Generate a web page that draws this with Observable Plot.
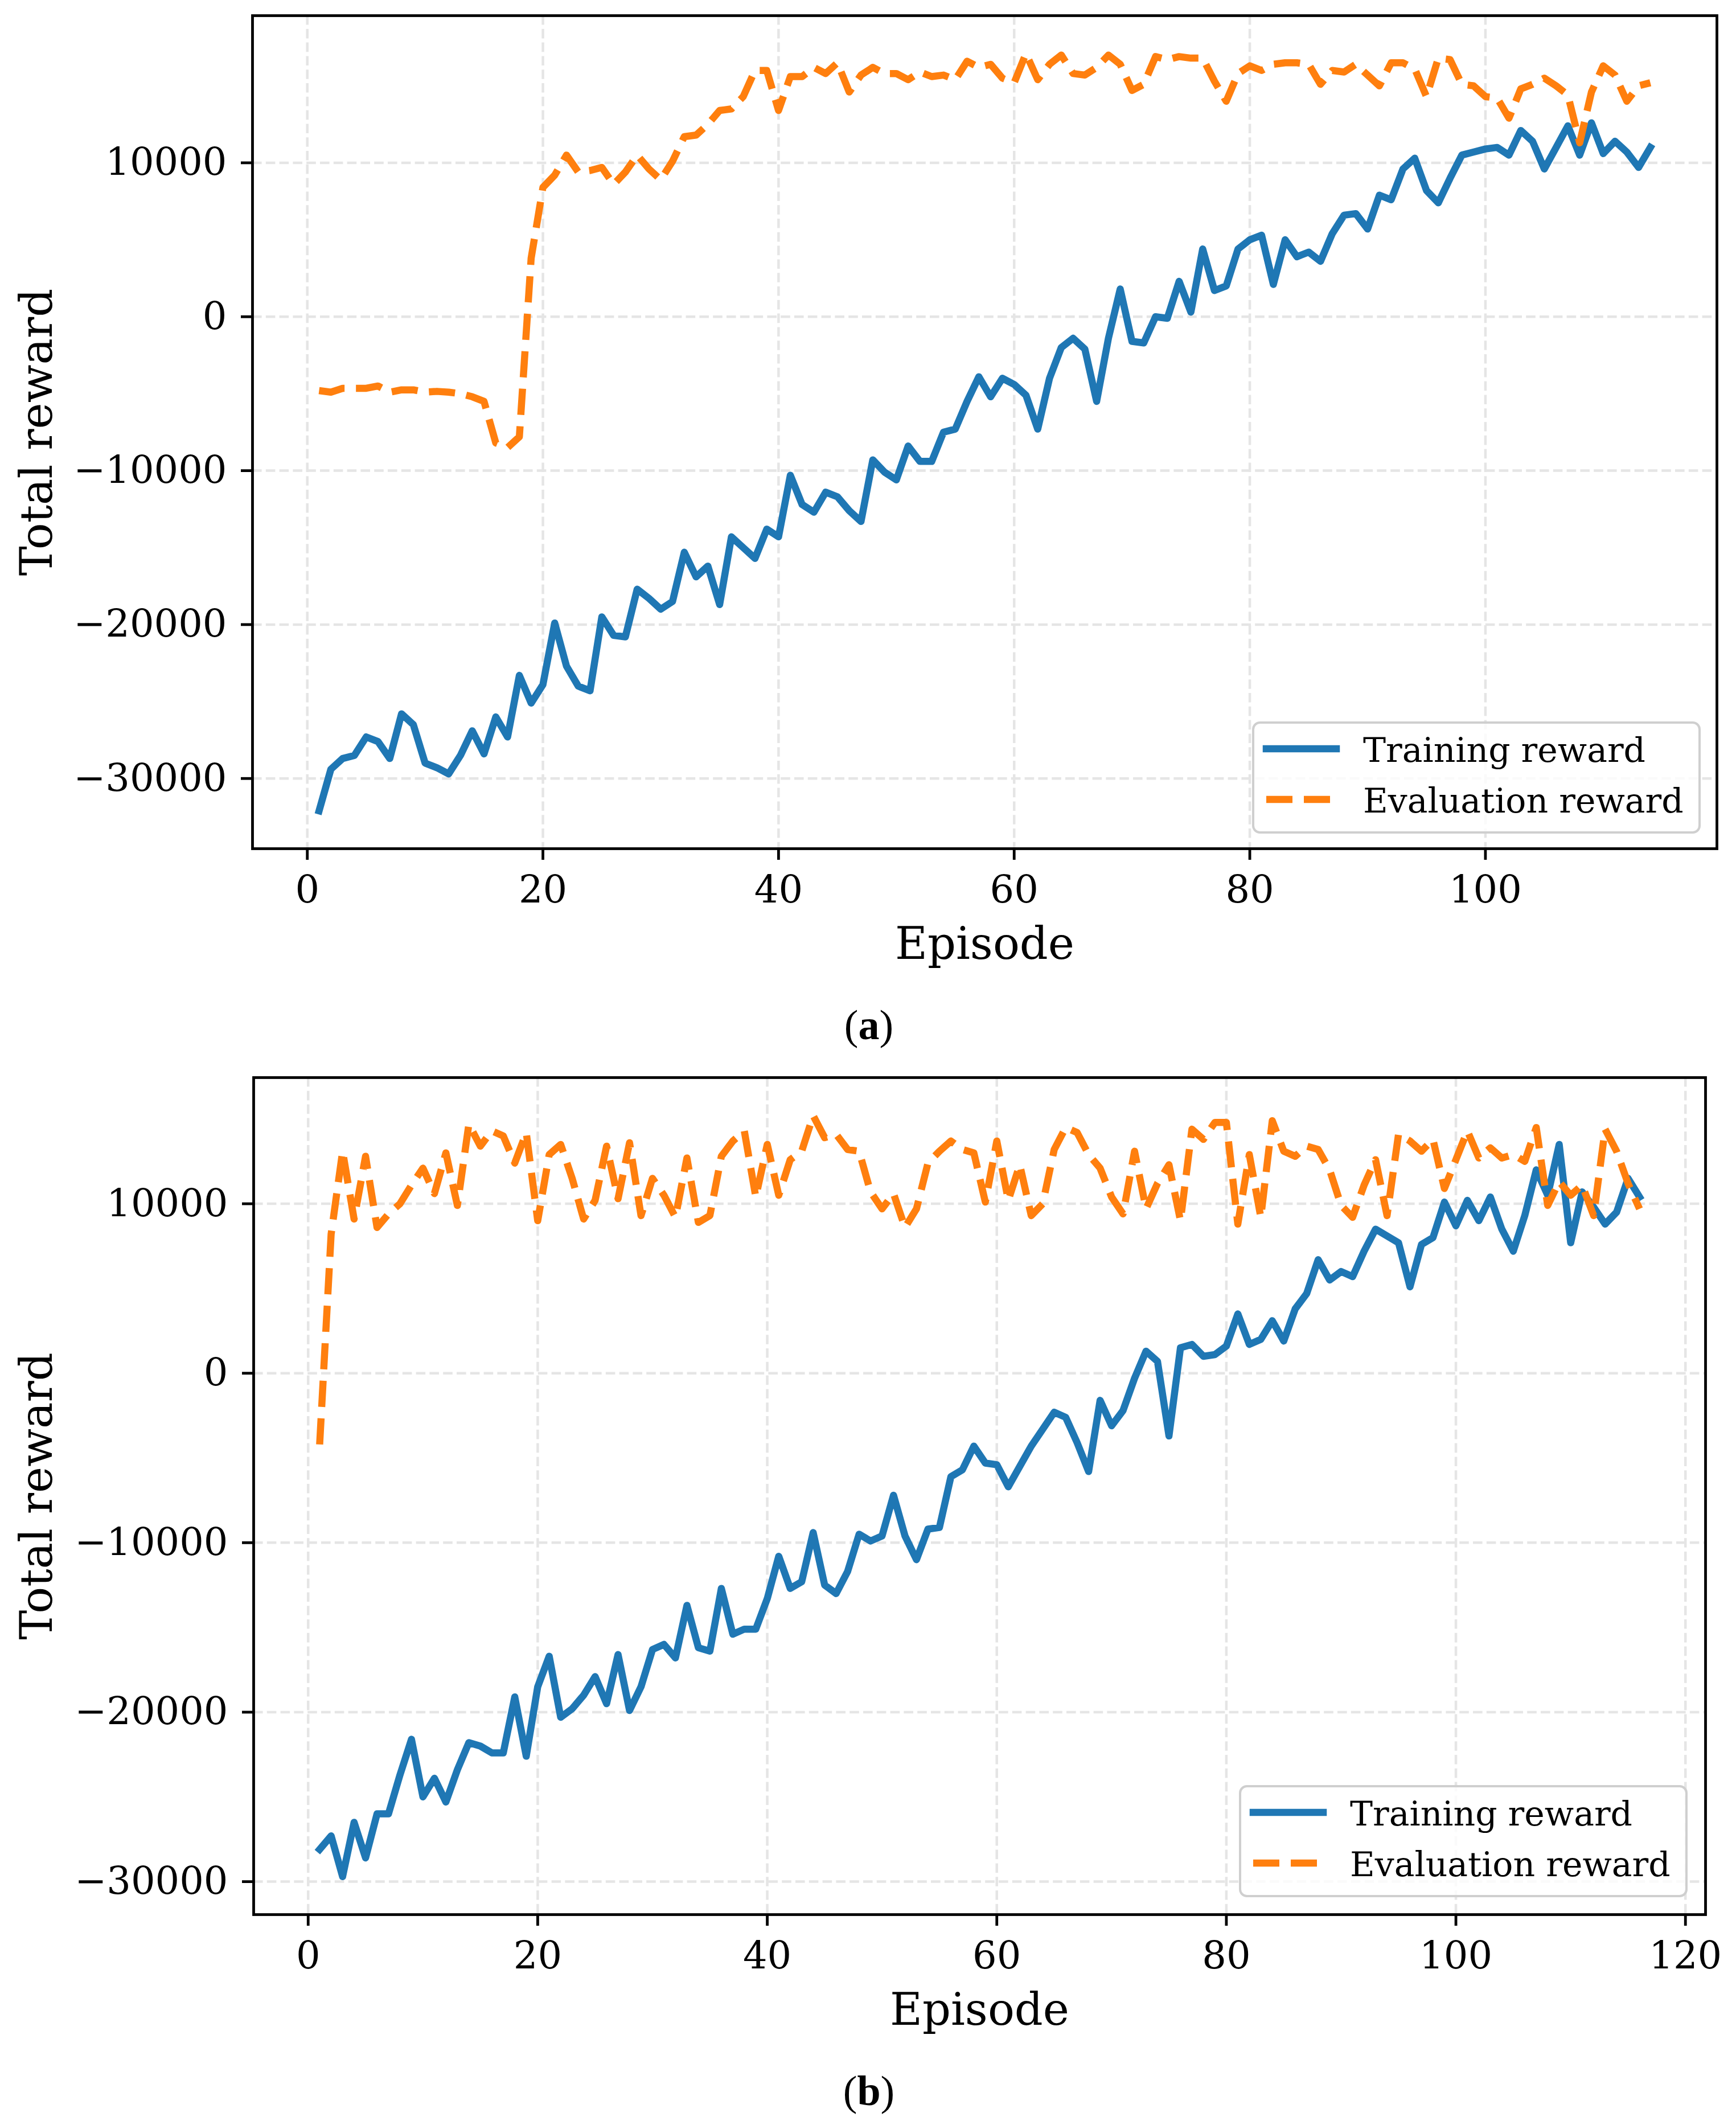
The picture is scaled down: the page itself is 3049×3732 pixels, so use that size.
<!DOCTYPE html>
<html><head><meta charset="utf-8">
<script src="https://cdn.jsdelivr.net/npm/d3@7"></script>
<script src="https://cdn.jsdelivr.net/npm/@observablehq/plot@0.6"></script>
<style>
html,body{margin:0;padding:0;background:#fff;}
#page{position:relative;width:3049px;height:3732px;background:#fff;overflow:hidden;}
.panel{position:absolute;left:0;width:3049px;}
#overlay{position:absolute;left:0;top:0;}
</style></head><body><div id="page"></div>
<script>
// ---------- data ----------
const episodesA = d3.range(1, 115);
const trainA = [
 -32100,-29400,-28700,-28500,-27300,-27600,-28700,-25800,-26500,-29000,
 -29300,-29700,-28500,-26900,-28400,-26000,-27300,-23300,-25100,-23900,
 -19900,-22700,-24000,-24300,-19500,-20700,-20800,-17700,-18300,-19000,
 -18500,-15300,-16900,-16200,-18700,-14300,-15000,-15700,-13800,-14300,
 -10300,-12200,-12700,-11400,-11700,-12600,-13300,-9300,-10100,-10600,
 -8400,-9400,-9400,-7500,-7300,-5500,-3900,-5200,-4000,-4400,
 -5100,-7300,-4000,-2000,-1400,-2100,-5500,-1400,1800,-1600,
 -1700,0,-100,2300,300,4400,1700,2000,4400,5000,
 5300,2100,5000,3900,4200,3600,5400,6600,6700,5700,
 7900,7600,9600,10300,8200,7400,9000,10500,10700,10900,
 11000,10500,12100,11400,9600,11000,12400,10500,12600,10600,
 11400,10700,9700,11000];
const evalA = [
 -4800,-4900,-4650,-4650,-4650,-4500,-4900,-4750,-4750,-4900,
 -4850,-4900,-5000,-5200,-5500,-8200,-8500,-7800,3800,8400,
 9200,10500,9400,9500,9700,8600,9400,10500,9600,8900,
 10100,11700,11800,12500,13400,13500,14300,16000,16000,13400,
 15600,15600,16200,15800,16500,14600,15700,16200,15800,15800,
 15400,15900,15600,15700,15400,16600,16200,16400,15500,15200,
 17100,15400,16400,17000,15800,15700,16200,17000,16400,14700,
 15100,16900,16700,16900,16800,16800,15300,14000,15800,16300,
 16000,16400,16500,16500,16400,15100,16000,15900,16400,15700,
 15000,16500,16500,16100,14300,16800,16700,15100,15000,14300,
 14200,12900,14800,15100,15500,15000,14400,11300,14600,16300,
 15700,14000,15000,15200];

const episodesB = d3.range(1, 117);
const trainB = [
 -28100,-27300,-29700,-26500,-28600,-26000,-26000,-23700,-21600,-25000,
 -23900,-25300,-23400,-21800,-22000,-22400,-22400,-19100,-22600,-18500,
 -16700,-20300,-19800,-19000,-17900,-19500,-16600,-19900,-18500,-16300,
 -16000,-16800,-13700,-16200,-16400,-12700,-15400,-15100,-15100,-13300,
 -10800,-12700,-12300,-9400,-12500,-13000,-11700,-9500,-9900,-9600,
 -7200,-9600,-11000,-9200,-9100,-6100,-5700,-4300,-5300,-5400,
 -6700,-5500,-4300,-3300,-2300,-2600,-4100,-5800,-1600,-3100,
 -2200,-300,1300,700,-3700,1500,1700,1000,1100,1600,
 3500,1700,2000,3100,1900,3800,4700,6700,5500,6000,
 5700,7200,8500,8100,7700,5100,7600,8000,10100,8700,
 10200,9000,10400,8500,7200,9300,12000,10500,13500,7700,
 10700,9800,8800,9500,11500,10400];
const evalB = [
 -4200,8200,13100,9100,12800,8600,9400,10000,11100,12100,
 10600,13000,9900,14700,13400,14300,14000,12400,14200,9000,
 12900,13500,11500,9100,10200,13400,10300,13600,9300,11500,
 10500,9200,12700,8900,9300,12800,13700,14300,10400,13500,
 10500,12600,13100,15200,13900,14100,13200,13100,10700,9700,
 10600,8600,9700,12400,13100,13700,13200,13000,10100,13700,
 10200,12300,9300,10000,13200,14500,14200,12900,12100,10400,
 9400,13100,9700,11200,12300,9000,14400,13800,14800,14800,
 8800,12900,9200,14900,13100,12800,13400,13200,12000,9900,
 9200,11100,12600,9300,14100,13700,13100,13800,10900,12600,
 14300,12700,13300,12700,12900,12500,14500,9900,11300,10500,
 11100,9300,14400,13100,11200,9700];

const xTicksA = [0, 20, 40, 60, 80, 100];
const xTicksB = [0, 20, 40, 60, 80, 100, 120];
const yTicks = [-30000, -20000, -10000, 0, 10000];
const seriesLabels = ["Training reward", "Evaluation reward"];
const seriesColors = ["#1f77b4", "#ff7f0e"];
const xLabel = "Episode";
const yLabel = "Total reward";
const captions = ["(", "a", ")", "(", "b", ")"];

// ---------- styling ----------
const FONT = "'DejaVu Serif', serif";
const LW = 12.5;
const DASH = "46,20";
const GRID = {stroke: "#e5e5e5", strokeOpacity: 1, strokeWidth: 4.5, strokeDasharray: "16.6,7.2"};
const fmt = d => d < 0 ? "\u2212" + Math.abs(d) : String(d);
const pad = e => { const r = e[1] - e[0]; return [e[0] - 0.05 * r, e[1] + 0.05 * r]; };

function panel(cfg) {
  const rows = cfg.ep.map((e, i) => ({ep: e, train: cfg.train[i], evalr: cfg.evalr[i]}));
  return Plot.plot({
    width: 3049, height: cfg.h,
    marginTop: cfg.mt, marginBottom: cfg.mb, marginLeft: cfg.ml, marginRight: cfg.mr,
    style: {fontFamily: FONT, fontSize: "67px", color: "#000", background: "transparent", overflow: "visible"},
    x: {domain: pad(d3.extent(cfg.ep))},
    y: {domain: pad(d3.extent([...cfg.train, ...cfg.evalr]))},
    marks: [
      Plot.gridX(cfg.xTicks, GRID),
      Plot.gridY(yTicks, GRID),
      Plot.line(rows, {x: "ep", y: "train", stroke: seriesColors[0], strokeWidth: LW,
        strokeLinejoin: "round", strokeLinecap: "square"}),
      Plot.line(rows, {x: "ep", y: "evalr", stroke: seriesColors[1], strokeWidth: LW,
        strokeDasharray: DASH, strokeLinejoin: "round", strokeLinecap: "butt"}),
      Plot.frame({stroke: "#000", strokeWidth: 4.8}),
      Plot.axisX(cfg.xTicks, {tickSize: 20, tickPadding: 27, strokeWidth: 4.8, label: null,
        fontSize: 67, fontFamily: FONT}),
      Plot.axisY(yTicks, {tickSize: 20, tickPadding: 25, strokeWidth: 4.8, label: null,
        tickFormat: fmt, fontSize: 67, fontFamily: FONT}),
      Plot.text([xLabel], {frameAnchor: "bottom", dy: 193, lineAnchor: "bottom", textAnchor: "middle",
        fontSize: 78, fontFamily: FONT}),
      Plot.text([yLabel], {frameAnchor: "left", dx: 66 - cfg.ml, rotate: -90, textAnchor: "middle",
        lineAnchor: "middle", fontSize: 78, fontFamily: FONT})
    ]
  });
}

const page = document.getElementById("page");
function place(svg, top) {
  const d = document.createElement("div");
  d.className = "panel"; d.style.top = top + "px";
  d.appendChild(svg); page.appendChild(d);
}
place(panel({ep: episodesA, train: trainA, evalr: evalA, xTicks: xTicksA,
  h: 1866, mt: 27, mb: 376, ml: 443, mr: 34}), 0);
place(panel({ep: episodesB, train: trainB, evalr: evalB, xTicks: xTicksB,
  h: 1866, mt: 26, mb: 370, ml: 445, mr: 54}), 1866);

// ---------- legends & captions (overlay) ----------
const ov = d3.select(page).append("svg").attr("id", "overlay")
  .attr("width", 3049).attr("height", 3732);
function legend(x0, y0) {
  const g = ov.append("g").attr("transform", `translate(${x0},${y0})`);
  g.append("rect").attr("x", 2).attr("y", 2).attr("width", 784).attr("height", 193)
    .attr("rx", 12).attr("fill", "#fff").attr("fill-opacity", 0.8)
    .attr("stroke", "#cfcfcf").attr("stroke-width", 4);
  g.append("line").attr("x1", 25).attr("x2", 148).attr("y1", 48).attr("y2", 48)
    .attr("stroke", seriesColors[0]).attr("stroke-width", LW).attr("stroke-linecap", "square");
  g.append("line").attr("x1", 25).attr("x2", 155).attr("y1", 137).attr("y2", 137)
    .attr("stroke", seriesColors[1]).attr("stroke-width", LW).attr("stroke-dasharray", DASH);
  g.append("text").attr("x", 195).attr("y", 71).text(seriesLabels[0])
    .attr("font-family", FONT).attr("font-size", 60);
  g.append("text").attr("x", 195).attr("y", 160).text(seriesLabels[1])
    .attr("font-family", FONT).attr("font-size", 60);
}
legend(2199, 1267);
legend(2176, 3135);

function caption(parts, y) {
  const t = ov.append("text").attr("x", 1526).attr("y", y).attr("text-anchor", "middle")
    .attr("font-family", "'Liberation Serif', serif").attr("font-size", 74);
  t.append("tspan").text(parts[0]);
  t.append("tspan").attr("font-weight", "bold").text(parts[1]);
  t.append("tspan").text(parts[2]);
}
caption(captions.slice(0, 3), 1825);
caption(captions.slice(3, 6), 3697);
</script></body></html>
